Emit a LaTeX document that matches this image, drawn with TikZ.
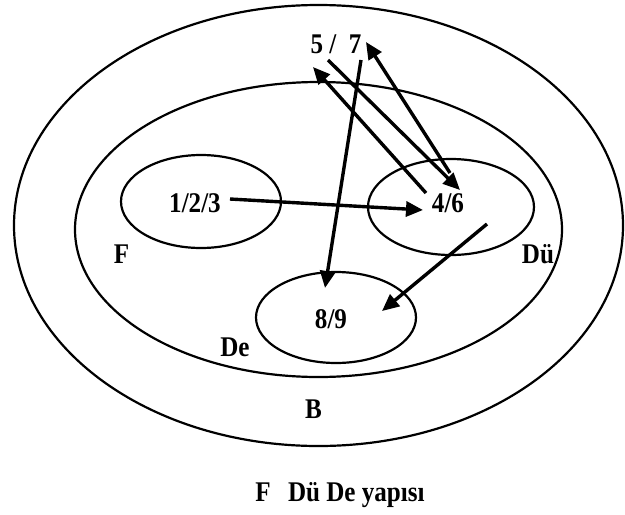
\documentclass[tikz,border=0pt]{standalone}
\usepackage{fontspec}
\setmainfont{Liberation Serif}[FakeStretch=0.88]
\usetikzlibrary{positioning, arrows.meta, shapes.geometric}

\begin{document}
\begin{tikzpicture}[x=1pt, y=-1pt,
        setring/.style={ellipse, draw, line width=2.2pt, inner sep=0pt},
        lbl/.style={font=\fontsize{28.5}{32}\selectfont\bfseries, inner sep=0pt},
        arr/.style={-{Triangle[length=17pt, width=15pt]}, line width=3.4pt}
    ]
    \useasboundingbox (0,0) rectangle (625,515);

    % nested sets
    \node[setring, minimum width=609pt, minimum height=441pt] (setB) at (318.5,225.5) {};
    \node[setring, minimum width=487pt, minimum height=295pt] (setDe) at (318.5,229.5) {};
    \node[setring, minimum width=160pt, minimum height=93pt] (setF) at (201,201.5) {};
    \node[setring, minimum width=166pt, minimum height=96pt] (setDu) at (451,207) {};
    \node[setring, minimum width=160pt, minimum height=91pt] (setDeIn) at (336,317.5) {};

    % labels
    \node[lbl] (n57) at (336,44) {5 /~ 7};
    \node[lbl] (n123) at (195,203) {1/2/3};
    \node[lbl] (n46) at (448,203) {4/6};
    \node[lbl] (n89) at (331,319) {8/9};
    \node[lbl] (lF) at (121.5,254) {F};
    \node[lbl] (lDu) at (538,254) {Dü};
    \node[lbl] (lDe) at (235,347) {De};
    \node[lbl] (lB) at (313.5,409) {B};
    \node[lbl, anchor=base] (caption) at (340,501) {F\ \ \,Dü De yapısı};

    % arrow ends
    \coordinate (a1s) at (230,199);  \coordinate (a1e) at (423,210);
    \coordinate (a2s) at (361,60);   \coordinate (a2e) at (325,288);
    \coordinate (a3s) at (426,193);  \coordinate (a3e) at (313,67);
    \coordinate (a4s) at (328,60);   \coordinate (a4e) at (460,190);
    \coordinate (a5s) at (450,173);  \coordinate (a5e) at (366,42);
    \coordinate (a6s) at (487,224);  \coordinate (a6e) at (382,311);

    \draw[arr] (a1s) -- (a1e);
    \draw[arr] (a2s) -- (a2e);
    \draw[arr] (a3s) -- (a3e);
    \draw[arr] (a4s) -- (a4e);
    \draw[arr] (a5s) -- (a5e);
    \draw[arr] (a6s) -- (a6e);

\end{tikzpicture}
\end{document}
